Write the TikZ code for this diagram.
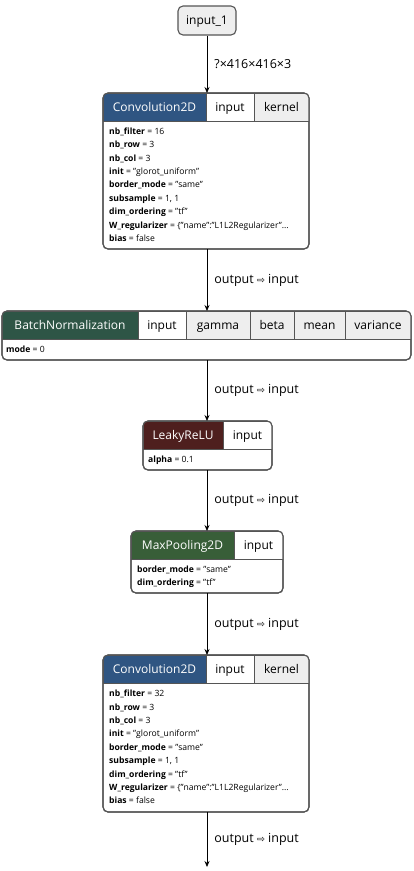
\documentclass[tikz,border=0pt]{standalone}
\usepackage{fontspec}
\setmainfont{Open Sans}
\newfontfamily\arrowfont{DejaVu Sans}
\usetikzlibrary{arrows.meta}
\definecolor{convblue}{HTML}{2F5582}
\definecolor{bngreen}{HTML}{2E5546}
\definecolor{lrred}{HTML}{4E1F1E}
\definecolor{mpgreen}{HTML}{385E38}
\definecolor{edgegray}{HTML}{555555}
\definecolor{portgray}{HTML}{EEEEEE}
\newcommand{\arr}{{\arrowfont\fontsize{9.5}{10}\selectfont ⇨}}
\tikzset{
  layer/.style={draw=edgegray, line width=1.1pt, rounded corners=5pt, inner sep=0pt, outer sep=0pt, anchor=north west},
  outline/.style={draw=edgegray, line width=1.1pt, rounded corners=5pt},
  cell/.style={draw=edgegray, line width=0.8pt, inner sep=0pt, outer sep=0pt, anchor=north west, minimum height=28pt, text height=8.6pt, text depth=0pt, font=\fontsize{12}{14}\selectfont},
  title/.style={cell, text=white},
  port/.style={cell, fill=white},
  weight/.style={cell, fill=portgray},
  params/.style={anchor=north west, inner sep=0pt, align=left, font=\fontsize{8.6}{13.4}\selectfont},
  conn/.style={-{Stealth[length=6pt,width=5pt]}, line width=0.8pt, draw=black},
  lbl/.style={anchor=west, font=\fontsize{12.5}{14}\selectfont, inner sep=0pt, xshift=7pt},
  inbox/.style={draw=edgegray, line width=1.1pt, rounded corners=5pt, fill=portgray, inner sep=0pt, minimum width=58pt, minimum height=29pt, text height=8.6pt, text depth=0pt, font=\fontsize{12}{14}\selectfont},
}
\begin{document}
\begin{tikzpicture}[x=1pt,y=-1pt]
\useasboundingbox[fill=white] (0,0) rectangle (414,871);

% input
\node[inbox] (in1) at (207,20.5) {input\_1};

% Conv1
\node[layer, minimum width=206pt, minimum height=156pt, fill=white] (c1) at (103,93) {};
\begin{scope}
\clip[rounded corners=5pt] (c1.north west) rectangle (c1.south east);
\node[title, fill=convblue, minimum width=103pt] (c1t) at (103,93) {Convolution2D};
\node[port, minimum width=48pt] (c1i) at (c1t.north east) {input};
\node[weight, minimum width=55pt] (c1k) at (c1i.north east) {kernel};
\end{scope}
\draw[outline] (c1.north west) rectangle (c1.south east);
\node[params] (c1p) at (109,127.5) {\textbf{nb\_filter} = 16\\\textbf{nb\_row} = 3\\\textbf{nb\_col} = 3\\\textbf{init} = "glorot\_uniform"\\\textbf{border\_mode} = "same"\\\textbf{subsample} = 1, 1\\\textbf{dim\_ordering} = "tf"\\\textbf{W\_regularizer} = \{"name":"L1L2Regularizer"...\\\textbf{bias} = false};

% BatchNorm
\node[layer, minimum width=409pt, minimum height=49pt, fill=white] (bn) at (2,311) {};
\begin{scope}
\clip[rounded corners=5pt] (bn.north west) rectangle (bn.south east);
\node[title, fill=bngreen, minimum width=136pt] (bnt) at (2,311) {BatchNormalization};
\node[port, minimum width=48pt] (bni) at (bnt.north east) {input};
\node[weight, minimum width=64pt] (bng) at (bni.north east) {gamma};
\node[weight, minimum width=44pt] (bnb) at (bng.north east) {beta};
\node[weight, minimum width=51pt] (bnm) at (bnb.north east) {mean};
\node[weight, minimum width=66pt] (bnv) at (bnm.north east) {variance};
\end{scope}
\draw[outline] (bn.north west) rectangle (bn.south east);
\node[params] (bnp) at (6,345.5) {\textbf{mode} = 0};

% LeakyReLU
\node[layer, minimum width=129pt, minimum height=49pt, fill=white] (lr) at (143,421) {};
\begin{scope}
\clip[rounded corners=5pt] (lr.north west) rectangle (lr.south east);
\node[title, fill=lrred, minimum width=80pt] (lrt) at (143,421) {LeakyReLU};
\node[port, minimum width=49pt] (lri) at (lrt.north east) {input};
\end{scope}
\draw[outline] (lr.north west) rectangle (lr.south east);
\node[params] (lrp) at (148,455.5) {\textbf{alpha} = 0.1};

% MaxPooling2D
\node[layer, minimum width=152pt, minimum height=62pt, fill=white] (mp) at (131,531) {};
\begin{scope}
\clip[rounded corners=5pt] (mp.north west) rectangle (mp.south east);
\node[title, fill=mpgreen, minimum width=103pt] (mpt) at (131,531) {MaxPooling2D};
\node[port, minimum width=49pt] (mpi) at (mpt.north east) {input};
\end{scope}
\draw[outline] (mp.north west) rectangle (mp.south east);
\node[params] (mpp) at (137,565.5) {\textbf{border\_mode} = "same"\\\textbf{dim\_ordering} = "tf"};

% Conv2
\node[layer, minimum width=206pt, minimum height=157pt, fill=white] (c2) at (103,655) {};
\begin{scope}
\clip[rounded corners=5pt] (c2.north west) rectangle (c2.south east);
\node[title, fill=convblue, minimum width=103pt] (c2t) at (103,655) {Convolution2D};
\node[port, minimum width=48pt] (c2i) at (c2t.north east) {input};
\node[weight, minimum width=55pt] (c2k) at (c2i.north east) {kernel};
\end{scope}
\draw[outline] (c2.north west) rectangle (c2.south east);
\node[params] (c2p) at (109,690) {\textbf{nb\_filter} = 32\\\textbf{nb\_row} = 3\\\textbf{nb\_col} = 3\\\textbf{init} = "glorot\_uniform"\\\textbf{border\_mode} = "same"\\\textbf{subsample} = 1, 1\\\textbf{dim\_ordering} = "tf"\\\textbf{W\_regularizer} = \{"name":"L1L2Regularizer"...\\\textbf{bias} = false};

\coordinate (out) at (207,867);

% connectors
\draw[conn] (in1.south) -- (in1.south |- c1.north) node[lbl, midway] {?×416×416×3};
\draw[conn] (in1.south |- c1.south) -- (in1.south |- bn.north) node[lbl, midway] {output \arr\ input};
\draw[conn] (in1.south |- bn.south) -- (in1.south |- lr.north) node[lbl, midway] {output \arr\ input};
\draw[conn] (in1.south |- lr.south) -- (in1.south |- mp.north) node[lbl, midway] {output \arr\ input};
\draw[conn] (in1.south |- mp.south) -- (in1.south |- c2.north) node[lbl, midway] {output \arr\ input};
\draw[conn] (in1.south |- c2.south) -- (out) node[lbl, midway] {output \arr\ input};
\end{tikzpicture}
\end{document}
